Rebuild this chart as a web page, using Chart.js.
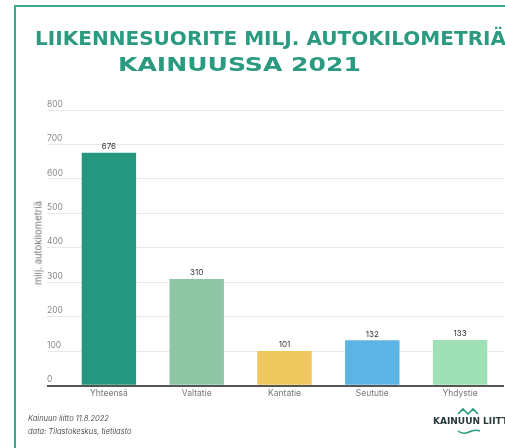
<!DOCTYPE html>
<html>
<head>
<meta charset="utf-8">
<script src="https://cdn.jsdelivr.net/npm/chart.js@4.4.0/dist/chart.umd.min.js"></script>
<style>
  html, body { margin: 0; padding: 0; background: #fff; overflow: hidden; }
  #wrap { position: relative; width: 505px; height: 448px; }
  #frame { position: absolute; left: 14px; top: 5px; width: 600px; height: 600px;
           border-left: 2px solid #3aa88c; border-top: 2px solid #3aa88c; }
  .title { position: absolute; font-family: "DejaVu Sans", sans-serif; font-weight: bold;
           color: #2a9a80; font-size: 19px; white-space: nowrap; transform-origin: left top; }
  #ytitle { position: absolute; left: 38px; top: 243px; font-family: Inter, sans-serif; font-size: 9.5px;
            color: #777; white-space: nowrap; transform: translate(-50%, -50%) rotate(-90deg); }
  .foot { position: absolute; left: 28px; font-family: Inter, sans-serif; font-style: italic;
          font-size: 7.5px; color: #555; white-space: nowrap; }
  #logo { position: absolute; left: 433px; top: 416px; font-family: "DejaVu Sans", sans-serif;
          font-weight: bold; font-size: 9px; color: #263838; white-space: nowrap; }
  canvas { position: absolute; left: 0; top: 0; }
</style>
</head>
<body>
<div id="wrap">
  <div id="frame"></div>
  <canvas id="barChart" width="505" height="448"></canvas>
  <div class="title" style="left:35px; top:27px; transform:scaleX(1.055);">LIIKENNESUORITE MILJ. AUTOKILOMETRIÄ</div>
  <div class="title" style="left:118px; top:53px; transform:scaleX(1.32);">KAINUUSSA 2021</div>
  <div id="ytitle">milj. autokilometriä</div>
  <div class="foot" style="top:414px;">Kainuun liitto 11.8.2022</div>
  <div class="foot" style="top:427px;">data: Tilastokeskus, tietilasto</div>
  <svg style="position:absolute; left:457px; top:407px;" width="24" height="8">
    <polyline points="1,7 6,2 11,7 16,2 21,7" fill="none" stroke="#2a9a80" stroke-width="1.6"/>
  </svg>
  <div id="logo">KAINUUN LIITTO</div>
  <svg style="position:absolute; left:457px; top:429px;" width="24" height="6">
    <path d="M1,2 Q6,6 12,3 T23,2" fill="none" stroke="#2a9a80" stroke-width="1.6"/>
  </svg>
</div>
<script>
// Data
const categories = ['Yhteensä', 'Valtatie', 'Kantatie', 'Seututie', 'Yhdystie'];
const values = [676, 310, 101, 132, 133];
const barColors = ['#25977f', '#8ec6a5', '#f0c860', '#5bb4e3', '#a0e0b6'];
const yTicks = [0, 100, 200, 300, 400, 500, 600, 700, 800];

const tickFont = { family: 'Inter', size: 8.5 };

// Value labels above each bar
const valueLabels = {
    id: 'valueLabels',
    afterDatasetsDraw(chart) {
        const ctx = chart.ctx;
        const meta = chart.getDatasetMeta(0);
        ctx.save();
        ctx.font = '8px Inter';
        ctx.fillStyle = '#333';
        ctx.textAlign = 'center';
        ctx.textBaseline = 'bottom';
        meta.data.forEach((bar, i) => {
            ctx.fillText(values[i], bar.x, bar.y - 2);
        });
        ctx.restore();
    }
};

let barCtx = document.getElementById('barChart').getContext('2d');
let barChart = new Chart(barCtx, {
    type: 'bar',
    data: {
        labels: categories,
        datasets: [{
            data: values,
            backgroundColor: barColors,
            borderWidth: 0,
            barPercentage: 0.62,
            categoryPercentage: 1,
        }],
    },
    options: {
        responsive: false,
        animation: false,
        layout: {
            padding: { left: 47, top: 110, right: 1, bottom: 46 },
        },
        scales: {
            x: {
                grid: { display: false, drawTicks: false },
                border: { display: false },
                ticks: { color: '#777', font: tickFont, padding: 3 },
            },
            y: {
                min: 0,
                max: 800,
                afterFit(scale) { scale.width = 18; },
                afterBuildTicks(scale) { scale.ticks = yTicks.map(v => ({ value: v })); },
                border: { display: false },
                grid: {
                    drawTicks: true,
                    tickLength: 18,
                    color: ctx => ctx.tick && ctx.tick.value === 0 ? '#555' : '#e8e8e8',
                    lineWidth: ctx => ctx.tick && ctx.tick.value === 0 ? 2 : 1,
                },
                ticks: {
                    color: '#8a8a8a',
                    font: tickFont,
                    crossAlign: 'far',
                    labelOffset: -6,
                    padding: 0,
                },
            },
        },
        plugins: {
            legend: { display: false },
            tooltip: { enabled: false },
        },
    },
    plugins: [valueLabels],
});
</script>
</body>
</html>
